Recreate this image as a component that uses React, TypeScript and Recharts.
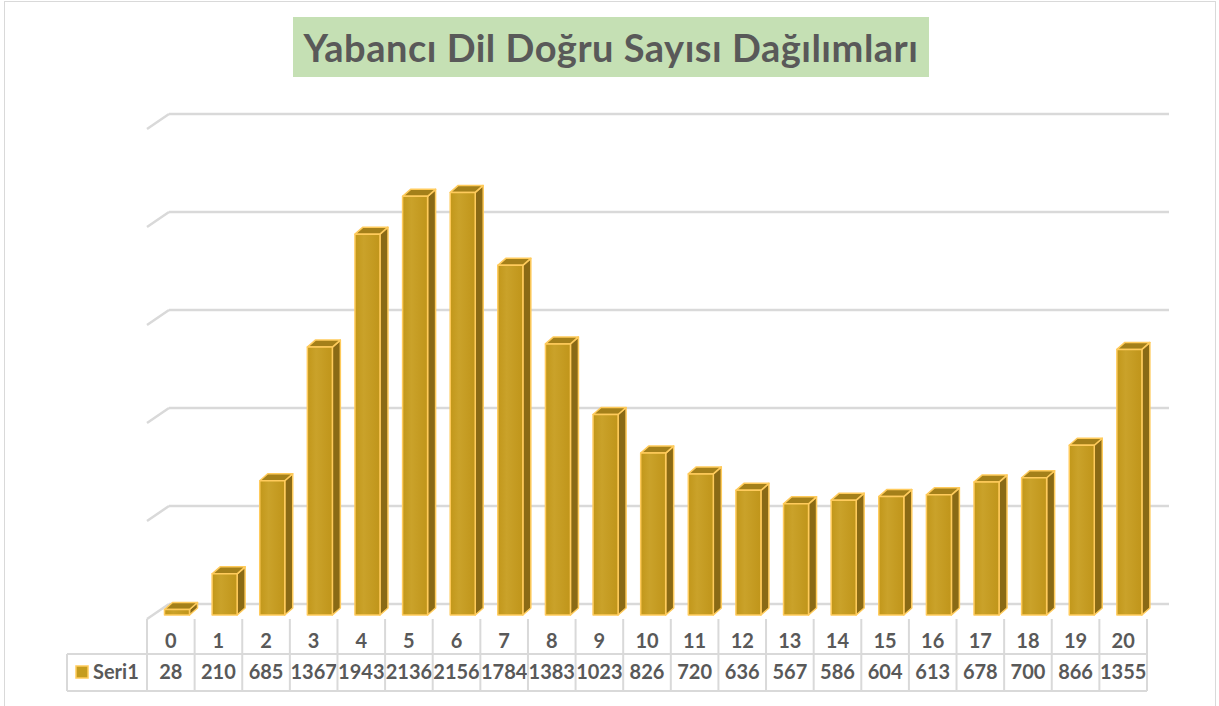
import { BarChart, Bar, XAxis, YAxis, CartesianGrid } from "recharts";

const categories = ["0", "1", "2", "3", "4", "5", "6", "7", "8", "9", "10", "11", "12", "13", "14", "15", "16", "17", "18", "19", "20"];
const seri1 = [28, 210, 685, 1367, 1943, 2136, 2156, 1784, 1383, 1023, 826, 720, 636, 567, 586, 604, 613, 678, 700, 866, 1355];
const yTicks = [0, 500, 1000, 1500, 2000, 2500];
const seriesName = "Seri1";
const title = "Yabancı Dil Doğru Sayısı Dağılımları";

const data = categories.map((c, i) => ({ name: c, value: seri1[i] }));

const W = 1219;
const H = 706;
const GRID = "#D9D9D9";
const TEXT = "#595959";
const FONT = "Lato, 'Open Sans', sans-serif";

// table layout (floor front edge down to bottom of the data table)
const COL0 = 147;
const COLW = 1000 / categories.length;
const ROW_TOP = 619;
const ROW_MID = 654;
const ROW_BOT = 691;
const LEG_X = 67;

function Bar3D(props: any) {
  const { x, y, width, height } = props;
  const dx = 8;
  const dy = 7;
  const front = `M${x},${y} h${width} v${height} h${-width} Z`;
  const side = `M${x + width},${y} l${dx},${-dy} v${height} l${-dx},${dy} Z`;
  const top = `M${x},${y} l${dx},${-dy} h${width} l${-dx},${dy} Z`;
  return (
    <g stroke="#FFCB5C" strokeWidth={1.5} strokeLinejoin="round">
      <path d={side} fill="#8A6A15" />
      <path d={top} fill="#A4801A" />
      <path d={front} fill="url(#frontGrad)" />
    </g>
  );
}

function gridLine(p: any) {
  const { x1, x2, y1, index } = p;
  return (
    <g key={`g-${index}-${y1}`}>
      <line x1={x1 - 6.5} y1={y1 + 4} x2={x1 + 15.5} y2={y1 - 11} stroke={GRID} strokeWidth={2.5} />
      <line x1={x1 + 15.5} y1={y1 - 11} x2={x2 + 15.5} y2={y1 - 11} stroke={GRID} strokeWidth={2.5} />
    </g>
  );
}

// each tick draws its own column of the data table
function TableTick(props: any) {
  const { index, payload } = props;
  const left = COL0 + index * COLW;
  const cx = left + COLW / 2;
  const last = index === categories.length - 1;
  return (
    <g>
      <line x1={left} y1={ROW_TOP} x2={left} y2={ROW_BOT} stroke={GRID} strokeWidth={2} />
      {last && <line x1={left + COLW} y1={ROW_TOP} x2={left + COLW} y2={ROW_BOT} stroke={GRID} strokeWidth={2} />}
      <text x={cx} y={648} textAnchor="middle" fontFamily={FONT} fontWeight={700} fontSize={20} fill={TEXT}>
        {payload.value}
      </text>
      <text x={cx} y={679} textAnchor="middle" fontFamily={FONT} fontWeight={700} fontSize={20} fill={TEXT}>
        {seri1[index]}
      </text>
      {index === 0 && (
        <g>
          <line x1={LEG_X} y1={ROW_MID} x2={COL0 + 1000} y2={ROW_MID} stroke={GRID} strokeWidth={2} />
          <line x1={LEG_X} y1={ROW_BOT} x2={COL0 + 1000} y2={ROW_BOT} stroke={GRID} strokeWidth={2} />
          <line x1={LEG_X} y1={ROW_MID} x2={LEG_X} y2={ROW_BOT} stroke={GRID} strokeWidth={2} />
          <rect x={76} y={666} width={12} height={12} fill="#C59C1F" stroke="#FFCB5C" strokeWidth={1.5} />
          <text x={93} y={679} fontFamily={FONT} fontWeight={700} fontSize={20} fill={TEXT}>
            {seriesName}
          </text>
        </g>
      )}
    </g>
  );
}

export default function App() {
  return (
    <div style={{ position: "relative", width: W, height: H, overflow: "hidden", background: "#fff" }}>
      <style>{`body{margin:0}`}</style>
      <div
        style={{
          position: "absolute",
          left: 4,
          top: 1,
          width: 1212,
          height: 740,
          border: `1px solid ${GRID}`,
          boxSizing: "border-box"
        }}
      />
      <div
        style={{
          position: "absolute",
          left: 293,
          top: 17,
          width: 636,
          height: 60,
          background: "#C5E0B4",
          color: TEXT,
          fontFamily: FONT,
          fontWeight: 700,
          fontSize: 38,
          letterSpacing: 0.5,
          lineHeight: "60px",
          textAlign: "center",
          whiteSpace: "nowrap"
        }}
      >
        {title}
      </div>
      <div style={{ position: "absolute", left: 0, top: 0 }}>
        <BarChart width={W} height={H} data={data} margin={{ top: 125, right: 65.5, bottom: 61, left: 153.5 }}>
          <defs>
            <linearGradient id="frontGrad" x1="0" y1="0" x2="1" y2="0">
              <stop offset="0%" stopColor="#C2971A" />
              <stop offset="35%" stopColor="#CAA22A" />
              <stop offset="100%" stopColor="#C0951A" />
            </linearGradient>
          </defs>
          <CartesianGrid vertical={false} horizontal={gridLine} />
          <XAxis dataKey="name" height={30} interval={0} axisLine={false} tickLine={false} tick={<TableTick />} />
          <YAxis hide domain={[0, 2500]} ticks={yTicks} />
          <Bar dataKey="value" barSize={25} shape={<Bar3D />} isAnimationActive={false} />
        </BarChart>
      </div>
    </div>
  );
}
